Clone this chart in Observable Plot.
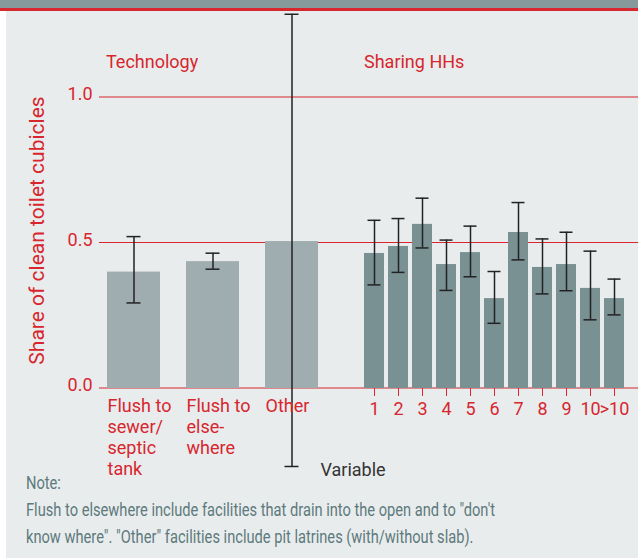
<!DOCTYPE html>
<html><head><meta charset="utf-8">
<script src="https://cdn.jsdelivr.net/npm/d3@7"></script>
<script src="https://cdn.jsdelivr.net/npm/@observablehq/plot@0.6"></script>
<style>
html,body{margin:0;padding:0;background:#fff;}
#wrap{position:relative;width:638px;height:559px;overflow:hidden;font-family:Roboto,sans-serif;}
#band{position:absolute;left:0;top:0;width:638px;height:8px;background:#869a9b;}
#redline{position:absolute;left:0;top:8px;width:638px;height:3px;background:#d7282f;}
#panel{position:absolute;left:6px;top:11px;width:632px;height:547px;background:#e9eced;}
.layer{position:absolute;left:0;top:0;}
#note{position:absolute;left:26px;top:469px;color:#5c7a7c;font-size:18px;line-height:27px;white-space:nowrap;transform-origin:0 0;}
#note div{display:block;}
</style></head><body>
<div id="wrap">
<div id="panel"></div><div id="band"></div><div id="redline"></div>
<div id="chartA" class="layer"></div><div id="chartB" class="layer"></div>
<div id="note"><div>Note:</div><div id="noteLine">Flush to elsewhere include facilities that drain into the open and to "don't</div><div>know where". "Other" facilities include pit latrines (with/without slab).</div></div>
</div>
<script>
// ---- data ----
const techCats = ["Flush to sewer/septic tank", "Flush to elsewhere", "Other"];
const techLabels = ["Flush to\nsewer/\nseptic\ntank", "Flush to\nelse-\nwhere", "Other"];
const techValues = [0.400, 0.436, 0.505];
const techLow = [0.294, 0.410, -0.268];
const techHigh = [0.522, 0.465, 1.286];

const shareCats = ["1","2","3","4","5","6","7","8","9","10",">10"];
const shareValues = [0.464,0.488,0.564,0.426,0.467,0.309,0.536,0.416,0.426,0.344,0.309];
const shareLow = [0.356,0.399,0.483,0.337,0.384,0.224,0.442,0.325,0.336,0.236,0.253];
const shareHigh = [0.578,0.584,0.654,0.510,0.558,0.402,0.639,0.514,0.537,0.472,0.376];

const yTicks = [0, 0.5, 1.0];
const yTitle = "Share of clean toilet cubicles";
const xTitle = "Variable";
const groupTech = "Technology";
const groupShare = "Sharing HHs";

// ---- layout ----
const W = 638, H = 559;
const RED = "#d7262e";
const ERR = "#222";
const common = {
  width: W, height: H, marginTop: 97, marginBottom: H - 388, marginLeft: 99, marginRight: 0,
  style: {background: "transparent", fontFamily: "Roboto, sans-serif", fontSize: "18px", overflow: "visible"}
};

const techRows = techCats.map((c, i) => ({cat: c, value: techValues[i], low: techLow[i], high: techHigh[i]}));
const shareRows = shareCats.map((c, i) => ({cat: c, value: shareValues[i], low: shareLow[i], high: shareHigh[i]}));

const chartA = Plot.plot({
  ...common,
  x: {domain: techCats, range: [106, 318], paddingInner: 0.33, paddingOuter: 0},
  y: {domain: [0, 1]},
  marks: [
    // grid lines drawn as 1px filled rects spanning the frame
    Plot.rect(yTicks, {y1: d => d, y2: d => d, insetTop: -0.5, insetBottom: -0.5, fill: RED}),
    Plot.barY(techRows, {x: "cat", y: "value", fill: "#a0adb0"}),
    Plot.ruleX(techRows, {x: "cat", y1: "low", y2: "high", stroke: ERR, strokeWidth: 1.5}),
    Plot.tickY(techRows, {x: "cat", y: "high", stroke: ERR, strokeWidth: 1.5, insetLeft: 19.5, insetRight: 19.5}),
    Plot.tickY(techRows, {x: "cat", y: "low", stroke: ERR, strokeWidth: 1.5, insetLeft: 19.5, insetRight: 19.5}),
    Plot.axisY({ticks: yTicks, tickFormat: d3.format(".1f"), tickSize: 0, tickPadding: 7, color: RED, fontSize: 18, label: null, dy: -3}),
    Plot.axisX({tickFormat: d => techLabels[techCats.indexOf(d)], tickSize: 0, tickPadding: 9, textAnchor: "start", dx: -26.5, lineHeight: 1.155, color: RED, fontSize: 18, label: null}),
    Plot.text([groupTech], {x: () => techCats[0], frameAnchor: "top", text: d => d, textAnchor: "start", lineAnchor: "bottom", dx: -28, dy: -30, fill: RED, fontSize: 18}),
    Plot.text([yTitle], {frameAnchor: "left", text: d => d, rotate: -90, textAnchor: "middle", dx: -62.5, dy: -12.5, fill: RED, fontSize: 21})
  ]
});

const chartB = Plot.plot({
  ...common,
  x: {domain: shareCats, range: [361, 628], paddingInner: 0.15, paddingOuter: 0},
  y: {domain: [0, 1], axis: null},
  marks: [
    Plot.barY(shareRows, {x: "cat", y: "value", fill: "#7a9194"}),
    Plot.ruleX(shareRows, {x: "cat", y1: "low", y2: "high", stroke: ERR, strokeWidth: 1.5}),
    Plot.tickY(shareRows, {x: "cat", y: "high", stroke: ERR, strokeWidth: 1.5, insetLeft: 3.5, insetRight: 3.5}),
    Plot.tickY(shareRows, {x: "cat", y: "low", stroke: ERR, strokeWidth: 1.5, insetLeft: 3.5, insetRight: 3.5}),
    Plot.axisX({tickSize: 8, tickPadding: 6, color: RED, fontSize: 18, label: null}),
    Plot.text([groupShare], {x: () => shareCats[0], frameAnchor: "top", text: d => d, textAnchor: "start", lineAnchor: "bottom", dx: -10.5, dy: -30, fill: RED, fontSize: 18}),
    Plot.text([xTitle], {frameAnchor: "bottom-left", text: d => d, textAnchor: "start", lineAnchor: "bottom", dx: 221, dy: 87.5, fill: "#333", fontSize: 18})
  ]
});

document.getElementById("chartA").appendChild(chartA);
document.getElementById("chartB").appendChild(chartB);

// condense the note to the narrow face of the original
const note = document.getElementById("note");
const lineW = document.getElementById("noteLine").getBoundingClientRect().width;
note.style.transform = `scaleX(${469 / lineW})`;
</script>
</body></html>
